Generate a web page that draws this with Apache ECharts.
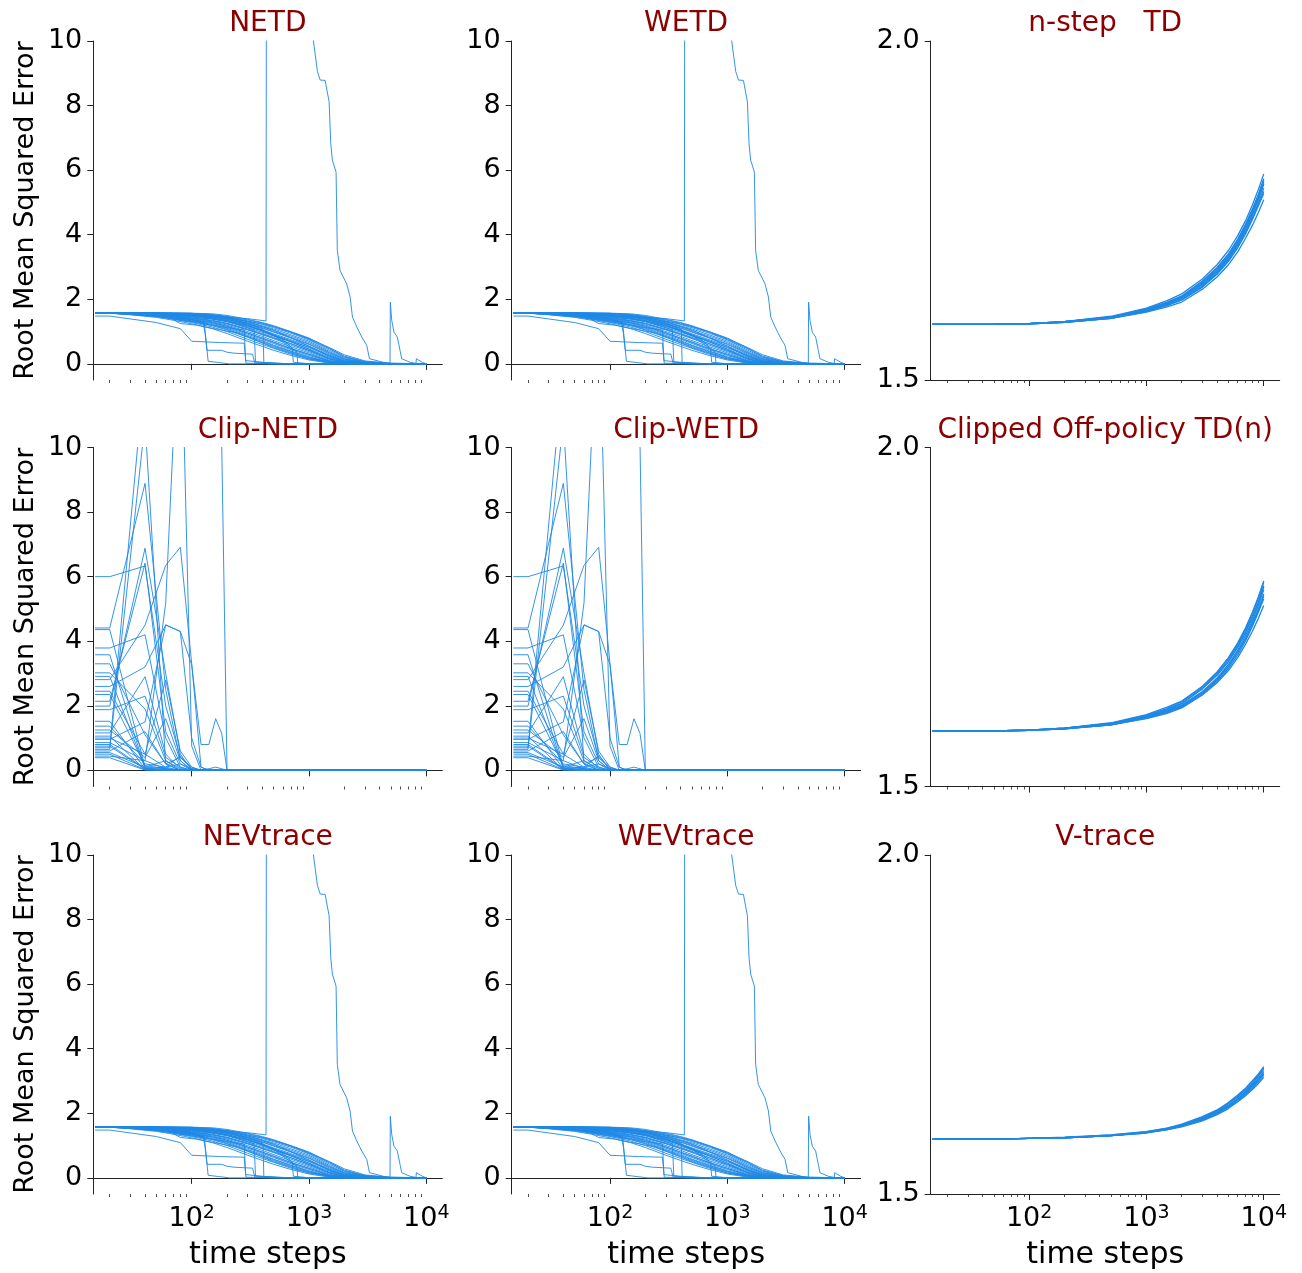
<!DOCTYPE html>
<html><head><meta charset="utf-8">
<script src="https://cdn.jsdelivr.net/npm/echarts@6/dist/echarts.min.js"></script>
<style>html,body{margin:0;padding:0;background:#fff}#c{width:1302px;height:1273px}</style>
</head><body><div id="c"></div>
<script>
// ---------------- data ----------------
const panelTitles = ['NETD','WETD','n-step   TD','Clip-NETD','Clip-WETD','Clipped Off-policy TD(n)','NEVtrace','WEVtrace','V-trace'];
const xMajorTicks = [100, 1000, 10000];
const xMinorTicks = [20,30,40,50,60,70,80,90,200,300,400,500,600,700,800,900,2000,3000,4000,5000,6000,7000,8000,9000];
const yTicksLeft = [0,2,4,6,8,10];
const yTicksRight = [1.5, 2.0];

// emphatic-TD style panels (NETD / WETD / NEVtrace / WEVtrace): runs on a shared grid
const etdGridX = [15,20,30,50,70,100,150,200,300,400,500,700,1000,1500,2000,3000,5000,10000];
const etdBandRuns = [
 [1.58,1.58,1.58,1.58,1.58,1.57,1.55,1.50,1.38,1.28,1.18,1.00,0.80,0.48,0.24,0.07,0.01,0],
 [1.58,1.58,1.58,1.58,1.57,1.56,1.53,1.47,1.33,1.22,1.12,0.95,0.74,0.42,0.20,0.05,0.01,0],
 [1.58,1.58,1.58,1.57,1.56,1.54,1.50,1.44,1.30,1.18,1.08,0.90,0.70,0.38,0.17,0.04,0,0],
 [1.58,1.58,1.57,1.56,1.55,1.52,1.48,1.42,1.27,1.15,1.03,0.86,0.66,0.35,0.15,0.03,0,0],
 [1.58,1.58,1.57,1.55,1.53,1.50,1.45,1.38,1.22,1.10,0.98,0.80,0.60,0.30,0.12,0.02,0,0],
 [1.58,1.58,1.57,1.55,1.52,1.48,1.42,1.35,1.18,1.05,0.93,0.75,0.55,0.27,0.10,0.02,0,0],
 [1.58,1.58,1.56,1.54,1.51,1.47,1.40,1.32,1.15,1.02,0.90,0.72,0.50,0.24,0.08,0.01,0,0],
 [1.58,1.58,1.56,1.53,1.50,1.45,1.38,1.30,1.12,0.98,0.86,0.68,0.46,0.20,0.07,0.01,0,0],
 [1.58,1.58,1.56,1.53,1.49,1.43,1.35,1.26,1.08,0.94,0.82,0.63,0.42,0.17,0.05,0,0,0],
 [1.58,1.58,1.55,1.52,1.48,1.42,1.33,1.23,1.05,0.90,0.78,0.58,0.38,0.14,0.04,0,0,0],
 [1.58,1.58,1.55,1.51,1.46,1.40,1.30,1.20,1.00,0.85,0.72,0.53,0.34,0.11,0.03,0,0,0],
 [1.58,1.58,1.55,1.50,1.45,1.38,1.28,1.17,0.96,0.80,0.68,0.48,0.30,0.09,0.02,0,0,0],
 [1.58,1.57,1.54,1.49,1.43,1.36,1.25,1.13,0.92,0.76,0.63,0.44,0.26,0.07,0.01,0,0,0],
 [1.58,1.57,1.54,1.48,1.42,1.34,1.22,1.10,0.88,0.72,0.58,0.40,0.22,0.05,0.01,0,0,0],
 [1.58,1.57,1.53,1.47,1.40,1.31,1.18,1.05,0.82,0.66,0.53,0.35,0.18,0.04,0,0,0,0],
 [1.58,1.57,1.53,1.46,1.38,1.28,1.14,1.00,0.76,0.60,0.48,0.30,0.15,0.03,0,0,0,0],
 [1.58,1.57,1.52,1.44,1.35,1.24,1.09,0.94,0.70,0.54,0.42,0.26,0.12,0.02,0,0,0,0],
 [1.58,1.58,1.57,1.56,1.54,1.51,1.47,1.43,1.32,1.24,1.15,0.99,0.78,0.50,0.28,0.09,0.02,0],
 [1.58,1.58,1.58,1.57,1.56,1.55,1.52,1.46,1.36,1.26,1.16,0.98,0.76,0.46,0.22,0.06,0.01,0],
 [1.58,1.58,1.57,1.56,1.54,1.50,1.46,1.40,1.25,1.12,1.00,0.82,0.62,0.33,0.14,0.03,0,0],
 [1.58,1.58,1.57,1.54,1.51,1.46,1.40,1.33,1.17,1.03,0.88,0.70,0.52,0.25,0.09,0.01,0,0],
 [1.58,1.58,1.56,1.52,1.47,1.41,1.33,1.25,1.06,0.92,0.80,0.62,0.41,0.16,0.05,0,0,0],
 [1.58,1.57,1.55,1.50,1.44,1.37,1.27,1.16,0.95,0.79,0.66,0.47,0.29,0.08,0.02,0,0,0],
 [1.58,1.57,1.54,1.48,1.41,1.33,1.20,1.07,0.85,0.69,0.56,0.38,0.20,0.05,0.01,0,0,0]
];
// individual runs with early drops, read as [time step, error] pairs
const etdEarlyRuns = [
 [[15,1.48],[20,1.48],[50,1.28],[80,1.09],[100,0.70],[175,0.66],[280,0.64],[290,0.02],[500,0],[10000,0]],
 [[15,1.58],[50,1.55],[80,1.45],[125,1.28],[130,0.95],[135,0.42],[180,0.42],[200,0.36],[230,0.33],[330,0.30],[345,0.02],[500,0],[10000,0]],
 [[15,1.58],[40,1.56],[80,1.46],[128,1.28],[138,0.08],[170,0.04],[210,0],[10000,0]],
 [[15,1.58],[35,1.56],[60,1.45],[80,1.35],[100,1.30],[150,1.20],[200,1.12],[280,1.05],[288,0.10],[400,0.05],[600,0],[10000,0]],
 [[15,1.58],[60,1.56],[100,1.50],[200,1.32],[340,1.05],[350,0.05],[700,0],[10000,0]],
 [[15,1.58],[100,1.55],[200,1.42],[300,1.25],[405,1.08],[412,0.03],[800,0],[10000,0]],
 [[15,1.58],[100,1.57],[300,1.25],[500,0.90],[720,0.45],[735,0.05],[1000,0],[10000,0]],
 [[15,1.58],[100,1.55],[300,1.20],[600,0.75],[790,0.35],[800,0.02],[1200,0],[10000,0]],
 [[15,1.58],[40,1.55],[60,1.50],[80,1.25],[110,1.20],[150,1.10],[250,0.95],[500,0.50],[1000,0.15],[2000,0.02],[3000,0],[10000,0]]
];
// the diverging run (spike at ~440 steps, re-enters the view at ~1090 steps)
const etdSpikeRun = [[15,1.58],[50,1.57],[100,1.53],[200,1.45],[300,1.40],[430,1.33],[441,40],[1085,40],[1090,10.0],[1180,9.05],[1245,8.79],[1372,8.78],[1420,8.48],[1483,8.12],[1531,6.83],[1581,6.31],[1700,5.94],[1742,3.52],[1837,2.89],[2094,2.48],[2240,2.07],[2345,1.45],[2555,1.14],[2818,0.83],[3106,0.57],[3273,0.16],[4600,0.02],[10000,0]];
const etdLateBumpRun = [[15,1.58],[50,1.57],[100,1.52],[200,1.40],[300,1.20],[500,0.90],[1000,0.45],[1500,0.15],[2000,0.05],[3000,0.01],[4900,0],[4930,1.91],[5070,1.34],[5300,0.98],[5660,0.83],[5970,0.41],[6160,0.16],[7250,0.05],[8500,0],[10000,0]];
const etdTailBumpRun = [[15,1.58],[50,1.58],[100,1.55],[200,1.45],[300,1.30],[500,1.05],[1000,0.55],[1500,0.22],[2000,0.08],[3000,0.02],[5000,0],[8150,0],[8220,0.16],[8570,0.12],[9250,0.05],[10000,0]];

// clipped emphatic panels (Clip-NETD / Clip-WETD)
const clipGridX = [15,20,40,60,80,100,120,140,160,180,200,10000];
const clipRuns = [
 [6.00,6.00,6.33,2.00,0.40,0.05,0,0,0,0,0,0],
 [4.41,4.41,8.89,2.50,0.30,0,0,0,0,0,0,0],
 [4.36,4.36,0.10,0.05,0,0,0,0,0,0,0,0],
 [3.79,3.79,4.20,1.00,0.10,0,0,0,0,0,0,0],
 [3.58,3.58,0.05,0,0,0,0,0,0,0,0,0],
 [3.02,3.02,1.90,0.30,0,0,0,0,0,0,0,0],
 [2.91,2.91,0.08,0.02,0,0,0,0,0,0,0,0],
 [2.81,2.81,4.50,6.35,6.91,3.30,0.10,0,0,0,0,0],
 [2.60,2.60,3.20,4.50,4.30,3.27,0.80,0.80,1.60,1.15,0,0],
 [2.35,2.35,0.15,0.05,0,0,0,0,0,0,0,0],
 [2.14,2.14,6.42,1.20,0.20,0,0,0,0,0,0,0],
 [1.99,1.99,6.88,3.00,0.50,0,0,0,0,0,0,0],
 [1.88,1.88,2.30,0.40,0.10,0,0,0,0,0,0,0],
 [1.52,1.52,0.05,0,0,0,0,0,0,0,0,0],
 [1.37,1.37,0.20,0.10,0,0,0,0,0,0,0,0],
 [1.16,1.16,2.90,0.50,0.05,0,0,0,0,0,0,0],
 [1.06,1.06,0.02,0,0,0,0,0,0,0,0,0],
 [0.96,0.96,1.50,4.51,4.30,1.00,0.10,0,0,0,0,0],
 [0.86,0.86,0.30,5.18,15.0,0.75,0,0,0,0,0,0],
 [0.75,0.75,0.03,0,0,0,0,0,0,0,0,0],
 [0.70,0.70,12.5,30,30,30,30,30,30,10.2,0,0],
 [0.65,0.65,10.8,0.20,0,0,0,0,0,0,0,0],
 [0.55,0.55,0.10,0.30,0.05,0,0,0,0,0,0,0],
 [0.50,0.50,0.02,0,0,0,0,0,0,0,0,0],
 [0.44,0.44,0.30,0.05,0,0,0,0,0,0,0,0],
 [0.39,0.39,0.01,0,0,0,0,0,0,0,0,0],
 [1.25,1.25,0.40,1.60,0.30,0,0,0,0,0,0,0],
 [2.45,2.45,0.50,2.80,0.60,0.10,0,0,0,0,0,0],
 [0.60,0.60,1.20,0.20,0.40,0.10,0,0,0,0,0,0],
 [3.30,3.30,1.10,0.20,0,0,0,0,0,0,0,0],
 [1.00,1.00,0.50,0.10,0.45,0.05,0,0,0,0,0,0],
 [0.80,0.80,0.05,0.10,0.20,0.05,0.02,0.05,0.10,0.05,0,0]
];

// right-column panels
const tdGridX = [15,50,100,200,500,1000,1500,2000,3000,4000,5000,6000,7000,8000,9000,10000];
const nstepRuns = [
 [1.582,1.582,1.583,1.585,1.591,1.601,1.610,1.618,1.637,1.656,1.675,1.695,1.716,1.737,1.758,1.778],
 [1.582,1.582,1.583,1.586,1.592,1.603,1.612,1.621,1.641,1.660,1.680,1.701,1.722,1.744,1.766,1.789],
 [1.582,1.582,1.583,1.586,1.593,1.605,1.615,1.624,1.646,1.666,1.686,1.708,1.730,1.752,1.774,1.797],
 [1.582,1.582,1.583,1.585,1.592,1.602,1.611,1.619,1.639,1.658,1.678,1.699,1.719,1.740,1.761,1.783],
 [1.582,1.582,1.583,1.586,1.594,1.606,1.617,1.627,1.649,1.670,1.691,1.713,1.735,1.758,1.781,1.804],
 [1.582,1.582,1.583,1.585,1.591,1.600,1.608,1.615,1.634,1.652,1.670,1.689,1.709,1.728,1.747,1.766],
 [1.582,1.582,1.583,1.586,1.592,1.604,1.613,1.622,1.643,1.663,1.683,1.704,1.726,1.748,1.770,1.793],
 [1.582,1.582,1.583,1.586,1.593,1.604,1.614,1.623,1.645,1.665,1.685,1.706,1.727,1.750,1.772,1.795],
 [1.582,1.582,1.583,1.585,1.591,1.602,1.610,1.618,1.638,1.657,1.676,1.696,1.716,1.737,1.757,1.775],
 [1.582,1.582,1.583,1.586,1.592,1.603,1.612,1.621,1.642,1.661,1.681,1.702,1.723,1.745,1.767,1.790]
];
const clippedTdRuns = [
 [1.582,1.582,1.583,1.585,1.591,1.601,1.609,1.617,1.636,1.655,1.674,1.694,1.715,1.736,1.757,1.777],
 [1.582,1.582,1.583,1.586,1.592,1.603,1.612,1.620,1.640,1.660,1.680,1.701,1.723,1.745,1.767,1.790],
 [1.582,1.582,1.583,1.586,1.593,1.605,1.615,1.625,1.647,1.667,1.688,1.710,1.732,1.755,1.778,1.801],
 [1.582,1.582,1.583,1.585,1.592,1.602,1.610,1.618,1.638,1.657,1.677,1.698,1.718,1.739,1.760,1.781],
 [1.582,1.582,1.583,1.586,1.594,1.606,1.617,1.626,1.648,1.669,1.690,1.712,1.734,1.757,1.780,1.803],
 [1.582,1.582,1.583,1.585,1.591,1.600,1.608,1.616,1.635,1.653,1.671,1.690,1.710,1.729,1.748,1.767],
 [1.582,1.582,1.583,1.586,1.592,1.604,1.613,1.622,1.644,1.664,1.684,1.705,1.727,1.749,1.771,1.794],
 [1.582,1.582,1.583,1.585,1.591,1.602,1.611,1.619,1.639,1.658,1.678,1.698,1.719,1.741,1.762,1.784],
 [1.582,1.582,1.583,1.586,1.593,1.604,1.614,1.623,1.645,1.665,1.685,1.707,1.729,1.751,1.773,1.796]
];
const vtraceRuns = [
 [1.581,1.581,1.582,1.583,1.586,1.591,1.596,1.601,1.611,1.621,1.631,1.641,1.651,1.661,1.671,1.681],
 [1.581,1.581,1.582,1.583,1.586,1.590,1.595,1.599,1.608,1.617,1.626,1.636,1.645,1.654,1.663,1.672],
 [1.581,1.581,1.582,1.583,1.587,1.592,1.597,1.603,1.614,1.624,1.635,1.646,1.656,1.667,1.677,1.688],
 [1.581,1.581,1.582,1.583,1.586,1.591,1.595,1.600,1.610,1.619,1.629,1.639,1.648,1.658,1.668,1.677],
 [1.581,1.581,1.582,1.583,1.586,1.591,1.596,1.602,1.612,1.622,1.633,1.643,1.653,1.663,1.674,1.684],
 [1.581,1.581,1.582,1.583,1.586,1.590,1.595,1.600,1.609,1.618,1.628,1.637,1.647,1.656,1.666,1.675],
 [1.581,1.581,1.582,1.584,1.587,1.592,1.597,1.602,1.613,1.623,1.634,1.644,1.655,1.665,1.675,1.686],
 [1.581,1.581,1.582,1.583,1.586,1.591,1.596,1.601,1.610,1.620,1.630,1.640,1.650,1.660,1.670,1.679]
];

// ---------------- layout / style ----------------
const FONT = 'DejaVu Sans';
const LINE = '#1E88E5';
const colLeft = [93.3, 511.6, 930.7];
const rowTop = [41, 447.5, 855];
const gridW = 349, gridH = 339;
const xMin = 14.49, xMax = 13677;

function onGrid(gridX, run){ return gridX.map((x,k)=>[x, run[k]]); }
function etdPanelData(){
  const out = etdBandRuns.map(r=>onGrid(etdGridX, r));
  etdEarlyRuns.forEach(r=>out.push(r));
  out.push(etdSpikeRun, etdLateBumpRun, etdTailBumpRun);
  return out;
}
function panelData(i){
  if (i===0||i===1||i===6||i===7) return etdPanelData();
  if (i===3||i===4) return clipRuns.map(r=>onGrid(clipGridX, r));
  if (i===2) return nstepRuns.map(r=>onGrid(tdGridX, r));
  if (i===5) return clippedTdRuns.map(r=>onGrid(tdGridX, r));
  return vtraceRuns.map(r=>onGrid(tdGridX, r));
}

const grids=[], xAxes=[], yAxes=[], series=[], graphics=[];
for (let i=0;i<9;i++){
  const r=Math.floor(i/3), c=i%3;
  const right = c===2;
  grids.push({left:colLeft[c], top:rowTop[r], width:gridW, height:gridH, containLabel:false, outerBoundsMode:'none'});
  xAxes.push({
    type:'log', logBase:10, gridIndex:i, min:xMin, max:xMax,
    axisLine:{show:true, lineStyle:{color:'#222', width:1}},
    axisTick:{show:true, length:6, lineStyle:{color:'#222', width:1}, customValues:xMajorTicks},
    axisLabel:{show:r===2, margin:10, color:'#000',
      formatter:function(v){ const l=Math.log10(v), e=Math.round(l); if(Math.abs(l-e)>1e-6) return ''; return '{b|10}{s|'+e+'}'; },
      rich:{b:{fontSize:27, fontFamily:FONT, color:'#000', lineHeight:30}, s:{fontSize:19, fontFamily:FONT, color:'#000', lineHeight:18, verticalAlign:'top'}}},
    splitLine:{show:false}, minorTick:{show:false},
    name: r===2 ? 'time steps' : '', nameLocation:'middle', nameGap:46,
    nameTextStyle:{fontSize:30, fontFamily:FONT, color:'#000'}
  });
  yAxes.push({
    type:'value', gridIndex:i, min: right?1.5:-0.5, max: right?2.0:10,
    axisLine:{show:true, lineStyle:{color:'#222', width:1}},
    axisTick:{show:true, length:6, lineStyle:{color:'#222', width:1}, customValues: right?yTicksRight:yTicksLeft},
    axisLabel:{show:true, margin:11, fontSize:27, fontFamily:FONT, color:'#000', customValues: right?yTicksRight:yTicksLeft,
      formatter: right ? (v=>Number(v).toFixed(1)) : (v=>String(v))},
    splitLine:{show:false},
    name: c===0 ? 'Root Mean Squared Error' : '', nameLocation:'middle', nameRotate:90, nameGap:54,
    nameTextStyle:{fontSize:27, fontFamily:FONT, color:'#000'}
  });
  panelData(i).forEach(d=>series.push({
    type:'line', xAxisIndex:i, yAxisIndex:i, data:d, symbol:'none', showSymbol:false,
    lineStyle:{color:LINE, width: right ? 1.3 : 0.9}, silent:true, animation:false, clip:true
  }));
  graphics.push({type:'text', x:colLeft[c]+gridW/2, y:rowTop[r]-17, silent:true,
    style:{text:panelTitles[i], fill:'#8B0000', font:'28px "'+FONT+'"', align:'center', verticalAlign:'middle'}});
}
// minor ticks of the log x axes
for (let i=0;i<9;i++){
  xAxes.push({type:'log', logBase:10, gridIndex:i, min:xMin, max:xMax, position:'bottom',
    axisLine:{show:false}, axisLabel:{show:false}, splitLine:{show:false},
    axisTick:{show:true, length:3, lineStyle:{color:'#222', width:0.8}, customValues:xMinorTicks}});
}

const chart = echarts.init(document.getElementById('c'), null, {renderer:'canvas'});
chart.setOption({
  animation:false, backgroundColor:'#fff',
  textStyle:{fontFamily:FONT},
  grid:grids, xAxis:xAxes, yAxis:yAxes, series:series, graphic:graphics
});
</script></body></html>
